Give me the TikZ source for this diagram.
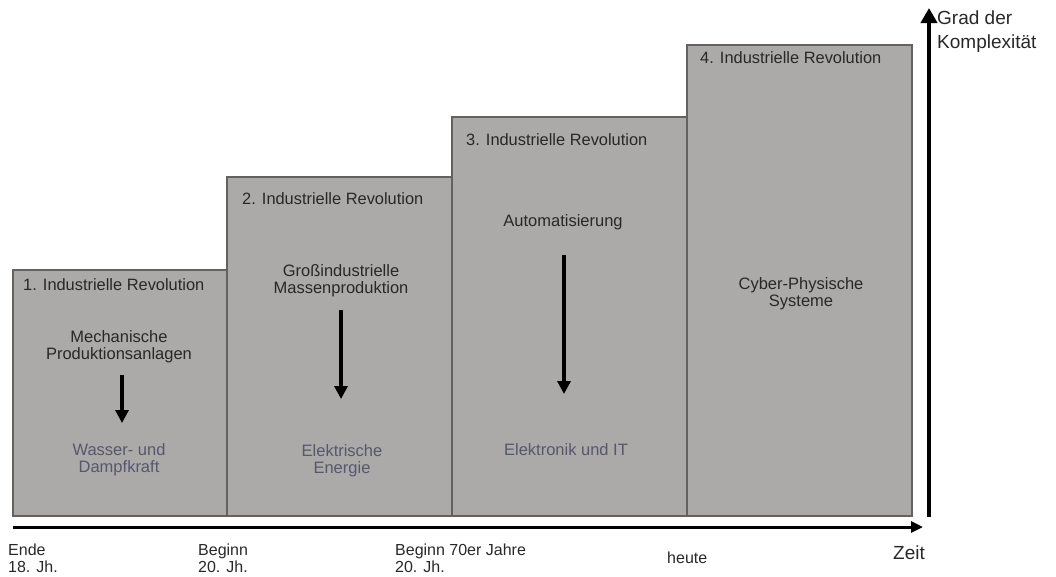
\documentclass[tikz,border=0pt]{standalone}
\usepackage{fontspec}
\setmainfont{Liberation Sans}
\usetikzlibrary{arrows.meta}
\definecolor{boxfill}{RGB}{172,169,169}
\definecolor{boxline}{RGB}{100,97,97}
\definecolor{txt}{RGB}{40,40,40}
\definecolor{lowtxt}{RGB}{85,88,110}
\tikzset{
  stage/.style={draw=boxline, line width=1.2pt, fill=boxfill},
  title/.style={anchor=west, text=txt, font=\fontsize{16.4}{18}\selectfont, inner sep=0pt},
  upper/.style={align=center, text=txt, font=\fontsize{16.5}{17}\selectfont, inner sep=0pt},
  lower/.style={align=center, text=lowtxt, font=\fontsize{16.5}{17}\selectfont, inner sep=0pt},
  flow/.style={line width=3.2pt, -{Triangle[length=13pt,width=13pt]}},
  axislbl/.style={anchor=north west, align=left, text=txt, font=\fontsize{16}{17}\selectfont, inner sep=0pt},
  biglbl/.style={anchor=north west, align=left, text=txt, font=\fontsize{19}{24}\selectfont, inner sep=0pt}
}
\begin{document}
\begin{tikzpicture}[x=1pt,y=-1pt]
\useasboundingbox (0,0) rectangle (1056,576);
% boxes
\draw[stage] (13,270) rectangle (227,516);
\draw[stage] (227,177) rectangle (452,516);
\draw[stage] (452,117) rectangle (687,516);
\draw[stage] (687,45) rectangle (912,516);
% titles
\node[title] (t1) at (23,285) {1. Industrielle Revolution};
\node[title] (t2) at (242,199) {2. Industrielle Revolution};
\node[title] (t3) at (466,140) {3. Industrielle Revolution};
\node[title] (t4) at (700,58) {4. Industrielle Revolution};
% box 1
\node[upper] (u1) at (119,347) {Mechanische\\Produktionsanlagen};
\node[lower] (l1) at (119,460) {Wasser- und\\Dampfkraft};
\coordinate (a1s) at (122,375);
\coordinate (a1e) at (122,423);
\draw[flow] (a1s) -- (a1e);
% box 2
\node[upper] (u2) at (341,281) {Großindustrielle\\Massenproduktion};
\node[lower] (l2) at (342,461) {Elektrische\\Energie};
\coordinate (a2s) at (341,310);
\coordinate (a2e) at (341,399);
\draw[flow] (a2s) -- (a2e);
% box 3
\node[upper] (u3) at (563,222) {Automatisierung};
\node[lower] (l3) at (566,450) {Elektronik und IT};
\coordinate (a3s) at (564,255);
\coordinate (a3e) at (564,394);
\draw[flow] (a3s) -- (a3e);
% box 4
\node[upper] (u4) at (801,294) {Cyber-Physische\\Systeme};
% axes
\coordinate (hstart) at (13,527);
\coordinate (hend) at (923,527);
\coordinate (vstart) at (929,517);
\coordinate (vend) at (929,8);
\draw[line width=3pt, -{Triangle[length=12pt,width=11pt]}] (hstart) -- (hend);
\draw[line width=4.5pt, -{Triangle[length=15pt,width=16pt]}] (vstart) -- (vend);
% axis labels
\node[axislbl] (e1) at (8,544) {Ende\\18. Jh.};
\node[axislbl] (e2) at (198,544) {Beginn\\20. Jh.};
\node[axislbl] (e3) at (395,544) {Beginn 70er Jahre\\20. Jh.};
\node[axislbl] (e4) at (667,552) {heute};
\node[biglbl] (zeit) at (893,546) {Zeit};
\node[biglbl] (grad) at (937,11) {Grad der\\Komplexität};
\end{tikzpicture}
\end{document}
